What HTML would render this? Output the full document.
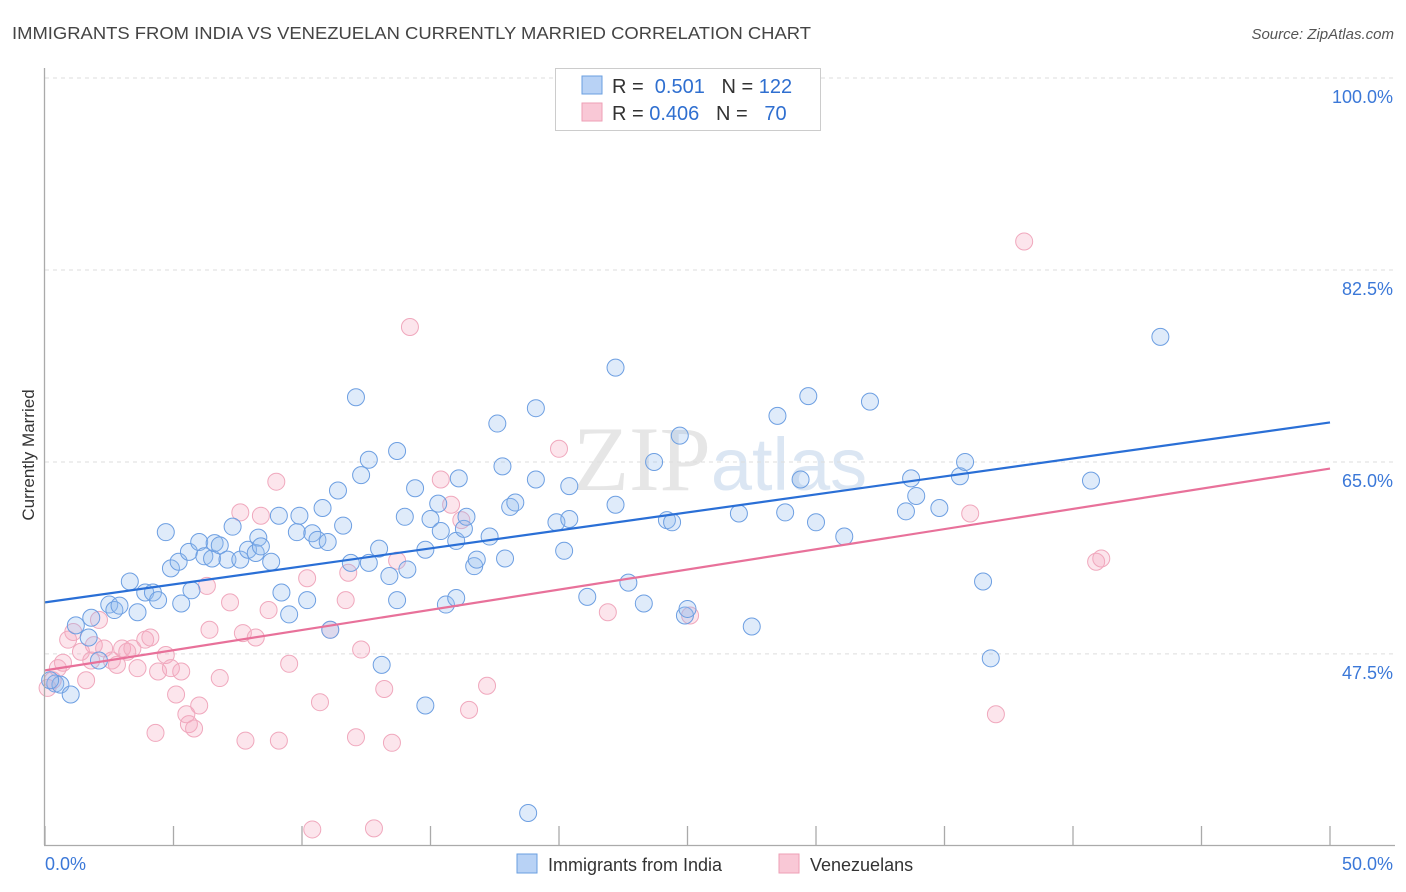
<!DOCTYPE html>
<html><head><meta charset="utf-8">
<style>
body{margin:0;background:#fff;font-family:"Liberation Sans",sans-serif;}
svg{display:block}
</style></head>
<body>
<svg id="chart" width="1406" height="892" xmlns="http://www.w3.org/2000/svg">
<text x="12" y="39" font-size="17.5" fill="#444" textLength="799" lengthAdjust="spacingAndGlyphs">IMMIGRANTS FROM INDIA VS VENEZUELAN CURRENTLY MARRIED CORRELATION CHART</text>
<text x="1394" y="39" font-size="15" fill="#555" text-anchor="end" font-style="italic">Source: ZipAtlas.com</text>
<text x="720" y="490" font-size="92" fill="#e6e6e6" text-anchor="middle" font-family="Liberation Serif, serif">ZIP<tspan fill="#dbe6f3" font-family="Liberation Sans, sans-serif" font-size="74">atlas</tspan></text>
<text transform="translate(34,455) rotate(-90)" font-size="17" fill="#333" text-anchor="middle">Currently Married</text>
<g id="grid"></g>
<g id="marks"></g>
<line x1="44.5" y1="68" x2="44.5" y2="845" stroke="#aaa" stroke-width="1.3"/>
<line x1="44" y1="845.5" x2="1395" y2="845.5" stroke="#aaa" stroke-width="1.3"/>
<g>
<rect x="555.5" y="68.5" width="265" height="62" fill="#fff" stroke="#ccc"/>
<rect x="582" y="76" width="20" height="18" fill="#b8d2f5" stroke="#6a9fe0"/>
<text x="612" y="93" font-size="20" fill="#333">R = <tspan fill="#2f6fd0">&#160;0.501</tspan>&#160;&#160;&#160;N = <tspan fill="#2f6fd0">122</tspan></text>
<rect x="582" y="103" width="20" height="18" fill="#f9c8d6" stroke="#ee9fb6"/>
<text x="612" y="120" font-size="20" fill="#333">R = <tspan fill="#2f6fd0">0.406</tspan>&#160;&#160;&#160;N = <tspan fill="#2f6fd0">&#160;&#160;70</tspan></text>
</g>
<g>
<rect x="517" y="854" width="20" height="19" fill="#b8d2f5" stroke="#6a9fe0"/>
<text x="548" y="871" font-size="18" fill="#333">Immigrants from India</text>
<rect x="779" y="854" width="20" height="19" fill="#f9c8d6" stroke="#ee9fb6"/>
<text x="810" y="871" font-size="18" fill="#333">Venezuelans</text>
</g>
<text x="45" y="870" font-size="18" fill="#3b78d8">0.0%</text>
<text x="1393" y="870" font-size="18" fill="#3b78d8" text-anchor="end">50.0%</text>
</svg>
<script>
const yTicks=[100,82.5,65,47.5];
const yTickLabels=["100.0%","82.5%","65.0%","47.5%"];
const xTicks=[0,5,10,15,20,25,30,35,40,45,50];
const indiaX=[0.4,0.6,1.0,0.2,1.2,1.7,1.8,2.1,2.5,2.7,2.9,3.3,3.6,3.9,4.2,4.4,4.7,4.9,5.2,5.3,5.6,5.7,6.0,6.2,6.5,6.6,6.8,7.1,7.3,7.6,7.9,8.2,8.3,8.4,8.8,9.1,9.2,9.5,9.8,9.9,10.2,10.4,10.6,10.8,11.0,11.1,11.4,11.6,11.9,12.1,12.3,12.6,12.6,13.0,13.1,13.4,13.7,13.7,14.0,14.1,14.4,14.8,14.8,15.0,15.3,15.4,15.6,16.0,16.0,16.1,16.3,16.4,16.7,16.8,17.3,17.6,17.8,17.9,18.1,18.3,18.8,19.1,19.1,19.9,20.2,20.4,20.4,21.1,22.2,22.2,22.7,23.3,23.7,24.2,24.4,24.7,24.9,25.0,27.0,27.5,28.5,28.8,29.4,29.7,30.0,31.1,32.1,33.5,33.7,33.9,34.8,35.6,35.8,36.5,36.8,40.7,43.4];
const indiaY=[44.8,44.7,43.8,45.1,50.1,49.0,50.8,46.9,52.0,51.5,51.9,54.1,51.3,53.1,53.1,52.4,58.6,55.3,55.9,52.1,56.8,53.3,57.7,56.4,56.2,57.6,57.4,56.1,59.1,56.1,57.0,56.7,58.1,57.3,55.9,60.1,53.1,51.1,58.6,60.1,52.4,58.5,57.9,60.8,57.7,49.7,62.4,59.2,55.8,70.9,63.8,55.8,65.2,57.1,46.5,54.6,66.0,52.4,60.0,55.2,62.6,42.8,57.0,59.8,61.2,58.7,52.0,57.8,52.6,63.5,58.9,60.0,55.5,56.1,58.2,68.5,64.6,56.2,60.9,61.3,33.0,63.4,69.9,59.5,56.9,59.8,62.8,52.7,73.6,61.1,54.0,52.1,65.0,59.7,59.5,67.4,51.0,51.6,60.3,50.0,69.2,60.4,63.4,71.0,59.5,58.2,70.5,60.5,63.5,61.9,60.8,63.7,65.0,54.1,47.1,63.3,76.4];
const venX=[0.1,0.3,0.5,0.7,0.9,1.1,1.4,1.6,1.8,1.9,2.1,2.3,2.6,2.8,3.0,3.2,3.4,3.6,3.9,4.1,4.3,4.4,4.7,4.9,5.1,5.3,5.5,5.6,5.8,6.0,6.3,6.4,6.8,7.2,7.6,7.7,7.8,8.2,8.4,8.7,9.0,9.1,9.5,10.2,10.4,10.7,11.1,11.7,11.8,12.1,12.3,12.8,13.2,13.5,13.7,14.2,15.4,15.8,16.2,16.5,17.2,20.0,21.9,25.1,38.1,36.0,37.0,40.9,41.1];
const venY=[44.4,45.1,46.2,46.7,48.8,49.5,47.7,45.1,46.9,48.3,50.6,48.0,46.9,46.5,48.0,47.7,48.0,46.2,48.8,49.0,40.3,45.9,47.4,46.2,43.8,45.9,42.0,41.1,40.7,42.8,53.7,49.7,45.3,52.2,60.4,49.4,39.6,49.0,60.1,51.5,63.2,39.6,46.6,54.4,31.5,43.1,49.7,52.4,54.9,39.9,47.9,31.6,44.3,39.4,56.0,77.3,63.4,61.1,59.7,42.4,44.6,66.2,51.3,51.0,85.1,60.3,42.0,55.9,56.2];
const indiaTrend=[52.2,68.6];
const venTrend=[46.0,64.4];

const NS="http://www.w3.org/2000/svg";
const xs=v=>45+v/50*1285;
const ys=v=>78+(100-v)*10.97;
function mk(tag,attrs,parent){const e=document.createElementNS(NS,tag);for(const k in attrs)e.setAttribute(k,attrs[k]);parent.appendChild(e);return e;}
const grid=document.getElementById('grid'),marks=document.getElementById('marks'),svg=document.getElementById('chart');
yTicks.forEach((t,i)=>{
  const l=mk('line',{x1:45,x2:1395,y1:ys(t),y2:ys(t),stroke:'#ddd','stroke-dasharray':'4,4'},grid);
  
  
  const tx=mk('text',{x:1393,y:ys(t)+25,'font-size':18,fill:'#3b78d8','text-anchor':'end'},svg);
  tx.textContent=yTickLabels[i];
  
  
});
xTicks.forEach(t=>{
  const l=mk('line',{x1:xs(t),x2:xs(t),y1:826,y2:845,stroke:'#aaa','stroke-width':1.3},grid);
  
  
});
venX.forEach((x,i)=>{
  const c=mk('circle',{cx:xs(x),cy:ys(venY[i]),r:8.5,fill:'rgba(246,168,192,0.3)',stroke:'#f0a8bd','stroke-width':1},marks);
  
  
});
indiaX.forEach((x,i)=>{
  const c=mk('circle',{cx:xs(x),cy:ys(indiaY[i]),r:8.5,fill:'rgba(150,188,238,0.3)',stroke:'#6d9fe2','stroke-width':1},marks);
  
  
});
const tb=mk('line',{x1:xs(0),y1:ys(indiaTrend[0]),x2:xs(50),y2:ys(indiaTrend[1]),stroke:'#2a6fd6','stroke-width':2.2},marks);


const tp=mk('line',{x1:xs(0),y1:ys(venTrend[0]),x2:xs(50),y2:ys(venTrend[1]),stroke:'#e8719a','stroke-width':2.2},marks);


</script>
</body></html>
